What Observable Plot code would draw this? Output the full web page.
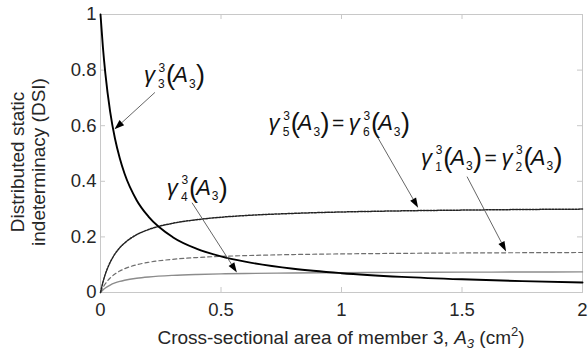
<!DOCTYPE html>
<html>
<head>
<meta charset="utf-8">
<script src="https://cdn.jsdelivr.net/npm/d3@7"></script>
<script src="https://cdn.jsdelivr.net/npm/@observablehq/plot@0.6"></script>
<style>
  html, body { margin: 0; padding: 0; background: #fff; }
</style>
</head>
<body>
<div id="chart"></div>
<script>
// Cross-sectional area A3 (cm^2)
const area = [0, 0.01, 0.02, 0.04, 0.06, 0.08, 0.1, 0.15, 0.2, 0.3, 0.4, 0.5, 0.6, 0.8, 1.0, 1.25, 1.5, 1.75, 2.0];
// gamma_3^3(A3)  (thick black)
const gamma3 = [1, 0.882, 0.789, 0.651, 0.554, 0.483, 0.427, 0.332, 0.272, 0.199, 0.157, 0.130, 0.111, 0.0853, 0.0694, 0.0563, 0.0474, 0.0409, 0.036];
// gamma_5^3 = gamma_6^3  (dotted)
const gamma56 = [0, 0.0368, 0.0658, 0.1086, 0.1387, 0.161, 0.178, 0.208, 0.2266, 0.249, 0.262, 0.2708, 0.2768, 0.2846, 0.2896, 0.2937, 0.2964, 0.2985, 0.300];
// gamma_1^3 = gamma_2^3  (dashed)
const gamma12 = [0, 0.0176, 0.0315, 0.0521, 0.0665, 0.0772, 0.0855, 0.0997, 0.1087, 0.1195, 0.1258, 0.1299, 0.1327, 0.1365, 0.1389, 0.1408, 0.1422, 0.1431, 0.1439];
// gamma_4^3  (thin grey)
const gamma4 = [0, 0.0091, 0.0162, 0.0268, 0.0343, 0.0398, 0.044, 0.0513, 0.056, 0.0616, 0.0648, 0.0669, 0.0684, 0.0703, 0.0715, 0.0725, 0.0732, 0.0737, 0.0741];

const xTicks = [0, 0.5, 1, 1.5, 2];
const yTicks = [0, 0.2, 0.4, 0.6, 0.8, 1];

// annotation labels: [x, y] of label start (data units), subscripts of each gamma term
const labels = [
  {pos: [0.205, 0.755], subs: ["3"]},
  {pos: [0.722, 0.581], subs: ["5", "6"]},
  {pos: [1.355, 0.458], subs: ["1", "2"]},
  {pos: [0.30, 0.350], subs: ["4"]}
];
// annotation arrows: [x1, y1, x2(tip), y2(tip)]
const arrows = [
  [0.228, 0.718, 0.060, 0.585],
  [1.145, 0.567, 1.320, 0.303],
  [1.523, 0.415, 1.685, 0.146],
  [0.382, 0.321, 0.568, 0.070]
];

const rows = (ys) => area.map((a, i) => ({a, v: ys[i]}));

const W = 588, H = 352, mL = 100, mR = 6, mT = 14, mB = 60;
const plotH = H - mT - mB, plotW = W - mL - mR;
const axisGrey = "#c8c8c8";
const FONT = "Liberation Sans, Arial, sans-serif";

const plot = Plot.plot({
  width: W, height: H,
  marginLeft: mL, marginRight: mR, marginTop: mT, marginBottom: mB,
  style: {fontFamily: FONT, fontSize: "18.5px", color: "#262626", background: "#fff"},
  x: {domain: [0, 2], label: null},
  y: {domain: [0, 1], label: null},
  marks: [
    Plot.frame({stroke: axisGrey, strokeWidth: 1}),
    // inward ticks
    Plot.ruleX(xTicks, {x: d => d, stroke: axisGrey, insetTop: plotH - 5}),
    Plot.ruleX(xTicks, {x: d => d, stroke: axisGrey, insetBottom: plotH - 5}),
    Plot.ruleY(yTicks, {y: d => d, stroke: axisGrey, insetRight: plotW - 5}),
    Plot.ruleY(yTicks, {y: d => d, stroke: axisGrey, insetLeft: plotW - 5}),
    Plot.axisX(xTicks, {tickSize: 0, tickPadding: 10, tickFormat: d => String(d), fill: "#262626", label: null}),
    Plot.axisY(yTicks, {tickSize: 0, tickPadding: 4, tickFormat: d => String(d), fill: "#262626", label: null}),
    Plot.line(rows(gamma4), {x: "a", y: "v", stroke: "#8c8c8c", strokeWidth: 1.4, curve: "monotone-x"}),
    Plot.line(rows(gamma12), {x: "a", y: "v", stroke: "#6e6e6e", strokeWidth: 1.2, strokeDasharray: "4,3", curve: "monotone-x"}),
    Plot.line(rows(gamma56), {x: "a", y: "v", stroke: "#222", strokeWidth: 1.5, strokeDasharray: "2,1.3", curve: "monotone-x"}),
    Plot.line(rows(gamma3), {x: "a", y: "v", stroke: "#000", strokeWidth: 1.9, curve: "monotone-x"})
  ]
});

document.getElementById("chart").appendChild(plot);

const sx = plot.scale("x"), sy = plot.scale("y");
const svg = d3.select(plot);
const ann = svg.append("g");

// arrows
for (const [a1, v1, a2, v2] of arrows) {
  const x1 = sx.apply(a1), y1 = sy.apply(v1), x2 = sx.apply(a2), y2 = sy.apply(v2);
  const dx = x2 - x1, dy = y2 - y1, L = Math.hypot(dx, dy);
  const ux = dx / L, uy = dy / L, hl = 10, hw = 3.4;
  const bx = x2 - ux * hl, by = y2 - uy * hl;
  ann.append("line").attr("x1", x1).attr("y1", y1).attr("x2", bx).attr("y2", by)
    .attr("stroke", "#555").attr("stroke-width", 0.9);
  ann.append("path")
    .attr("d", `M${x2},${y2}L${bx - uy * hw},${by + ux * hw}L${bx + uy * hw},${by - ux * hw}Z`)
    .attr("fill", "#000");
}

// measurement helper
function measure(str, size, italic, weight) {
  const t = svg.append("text").text(str).attr("font-family", FONT).attr("font-size", size);
  if (italic) t.attr("font-style", "italic");
  if (weight) t.attr("font-weight", weight);
  const w = t.node().getComputedTextLength();
  t.remove();
  return w;
}

function drawLabel(pos, subs) {
  let x = sx.apply(pos[0]);
  const y = sy.apply(pos[1]);
  const text = ann.append("text").attr("font-family", FONT).attr("fill", "#111");
  const span = (str, dxy, size, italic, weight) => {
    const s = text.append("tspan").attr("x", x + dxy[0]).attr("y", y + dxy[1]).attr("font-size", size).text(str);
    if (italic) s.attr("font-style", "italic");
    if (weight) s.attr("font-weight", weight);
    return measure(str, size, italic, weight);
  };
  subs.forEach((sub, i) => {
    if (i > 0) { x += 4; x += span("=", [0, 0], 21); x += 4; }
    const wg = span("\u03B3", [0, 0], 22, true);
    const ws = span("3", [wg + 1.5, -10.5], 12);
    span(sub, [wg + 1, 6], 12);
    x += wg + ws + 3.5;
    x += span("(", [0, 2], 27, false, 300) + 1;
    x += span("A", [0, 0], 22, true) - 3;
    x += span("3", [0, 5.5], 12) + 1.5;
    x += span(")", [0, 2], 27, false, 300);
  });
}
for (const l of labels) drawLabel(l.pos, l.subs);

// x-axis label
const xl = svg.append("text")
  .attr("x", mL + plotW / 2).attr("y", 344).attr("text-anchor", "middle")
  .attr("font-family", FONT).attr("font-size", 19).attr("fill", "#262626");
xl.append("tspan").text("Cross-sectional area of member 3, ");
xl.append("tspan").attr("font-style", "italic").text("A");
xl.append("tspan").attr("font-style", "italic").attr("font-size", 13).attr("dy", 4).text("3");
xl.append("tspan").attr("dy", -4).text(" (cm");
xl.append("tspan").attr("font-size", 13).attr("dy", -8).text("2");
xl.append("tspan").attr("dy", 8).text(")");

// y-axis label (two lines)
const yl = svg.append("text")
  .attr("transform", `translate(24,162) rotate(-90)`)
  .attr("text-anchor", "middle")
  .attr("font-family", FONT).attr("font-size", 19).attr("fill", "#262626");
yl.append("tspan").attr("x", 0).attr("y", 0).text("Distributed static");
yl.append("tspan").attr("x", 0).attr("y", 21).text("indeterminacy (DSI)");
</script>
</body>
</html>
